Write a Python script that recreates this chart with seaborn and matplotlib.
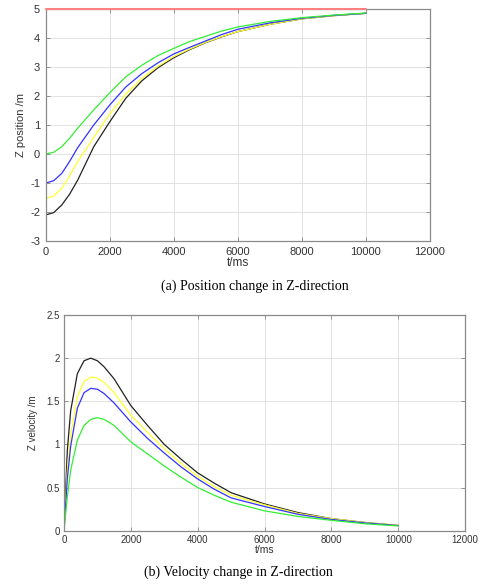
import numpy as np
import pandas as pd
import matplotlib
matplotlib.use("Agg")
import matplotlib.pyplot as plt
import seaborn as sns

# ---- data ----
t_pos = [0, 250, 500, 750, 1000, 1500, 2000, 2500, 3000, 3500, 4000, 4500, 5000, 5500, 6000, 7000, 8000, 9000, 10000]
pos_green = [0, 0.06, 0.25, 0.55, 0.89, 1.52, 2.11, 2.66, 3.06, 3.39, 3.64, 3.88, 4.06, 4.24, 4.38, 4.57, 4.70, 4.79, 4.86]
pos_blue = [-1.0, -0.92, -0.67, -0.25, 0.22, 1.0, 1.69, 2.31, 2.77, 3.14, 3.45, 3.68, 3.9, 4.12, 4.3, 4.52, 4.68, 4.78, 4.85]
pos_yellow = [-1.53, -1.45, -1.18, -0.75, -0.26, 0.57, 1.38, 2.06, 2.6, 3.02, 3.36, 3.62, 3.85, 4.05, 4.22, 4.47, 4.66, 4.77, 4.85]
pos_black = [-2.1, -2.02, -1.76, -1.38, -0.9, 0.25, 1.11, 1.92, 2.52, 2.97, 3.32, 3.6, 3.84, 4.04, 4.22, 4.47, 4.66, 4.77, 4.85]
target_t = [0, 10000]
target_z = [5, 5]

t_vel = [0, 100, 200, 400, 600, 800, 1000, 1200, 1500, 2000, 2500, 3000, 3500, 4000, 4500, 5000, 6000, 7000, 8000, 9000, 10000]
vel_black = [0, 0.93, 1.39, 1.82, 1.97, 2.0, 1.97, 1.90, 1.76, 1.45, 1.22, 1.0, 0.83, 0.67, 0.55, 0.44, 0.31, 0.21, 0.14, 0.095, 0.06]
vel_yellow = [0, 0.7, 1.1, 1.55, 1.73, 1.78, 1.77, 1.72, 1.6, 1.34, 1.14, 0.95, 0.78, 0.63, 0.51, 0.41, 0.30, 0.20, 0.14, 0.095, 0.065]
vel_blue = [0, 0.6, 0.98, 1.42, 1.6, 1.65, 1.64, 1.59, 1.48, 1.26, 1.07, 0.9, 0.74, 0.60, 0.48, 0.38, 0.28, 0.19, 0.13, 0.09, 0.06]
vel_green = [0, 0.39, 0.7, 1.05, 1.22, 1.29, 1.31, 1.29, 1.22, 1.03, 0.89, 0.75, 0.62, 0.50, 0.41, 0.33, 0.23, 0.165, 0.12, 0.08, 0.055]

x_ticks = [0, 2000, 4000, 6000, 8000, 10000, 12000]
pos_yticks = [-3, -2, -1, 0, 1, 2, 3, 4, 5]
vel_yticks = [0, 0.5, 1, 1.5, 2, 2.5]
vel_ytick_labels = ['0', '0.5', '1', '1.5', '2', '2.5']

sns.set_theme(style="white")
plt.rcParams['font.family'] = ['Liberation Sans', 'DejaVu Sans']

fig = plt.figure(figsize=(4.81, 5.86), dpi=100)
ax1 = fig.add_axes([0.095, 0.5887, 0.799, 0.396])
ax2 = fig.add_axes([0.133, 0.0944, 0.834, 0.368])

def style(ax, fs, pad):
    ax.grid(True, color='#e2e2e2', linewidth=0.7)
    ax.set_axisbelow(True)
    for s in ax.spines.values():
        s.set_color('#8a8a8a')
        s.set_linewidth(0.9)
    ax.tick_params(direction='in', length=3, width=0.6, colors='#888888',
                   labelcolor='#333333', labelsize=fs, top=True, right=True,
                   bottom=True, left=True, pad=pad)

lw = 0.9
sns.lineplot(x=target_t, y=target_z, ax=ax1, color='#ff8080', linewidth=1.5,
             zorder=10, clip_on=False)
sns.lineplot(x=t_pos, y=pos_black, ax=ax1, color='#222222', linewidth=lw)
sns.lineplot(x=t_pos, y=pos_yellow, ax=ax1, color='#ffff33', linewidth=lw)
sns.lineplot(x=t_pos, y=pos_blue, ax=ax1, color='#3333ff', linewidth=lw)
sns.lineplot(x=t_pos, y=pos_green, ax=ax1, color='#33ee33', linewidth=lw)
ax1.set_xlim(0, 12000)
ax1.set_ylim(-3, 5)
ax1.set_xticks(x_ticks)
ax1.set_yticks(pos_yticks)
ax1.set_xticklabels([str(v) for v in x_ticks])
ax1.set_yticklabels([str(v) for v in pos_yticks])
style(ax1, 8, 4)
ax1.set_xlabel('t/ms', fontsize=8.5, color='#333333', labelpad=0)
ax1.set_ylabel('Z position /m', fontsize=8, color='#333333', labelpad=3)

sns.lineplot(x=t_vel, y=vel_black, ax=ax2, color='#222222', linewidth=lw)
sns.lineplot(x=t_vel, y=vel_yellow, ax=ax2, color='#ffff33', linewidth=lw)
sns.lineplot(x=t_vel, y=vel_blue, ax=ax2, color='#3333ff', linewidth=lw)
sns.lineplot(x=t_vel, y=vel_green, ax=ax2, color='#33ee33', linewidth=lw)
ax2.set_xlim(0, 12000)
ax2.set_ylim(0, 2.5)
ax2.set_xticks(x_ticks)
ax2.set_yticks(vel_yticks)
ax2.set_xticklabels([str(v) for v in x_ticks])
ax2.set_yticklabels(vel_ytick_labels)
style(ax2, 7, 3)
ax2.set_xlabel('t/ms', fontsize=7.5, color='#333333', labelpad=0)
ax2.set_ylabel('Z velocity /m', fontsize=7, color='#333333', labelpad=6)

fig.text(0.53, 1 - 286 / 586, '(a) Position change in Z-direction', ha='center', va='center',
         fontsize=10, family=['Liberation Serif'], color='black')
fig.text(0.495, 1 - 572 / 586, '(b) Velocity change in Z-direction', ha='center', va='center',
         fontsize=10, family=['Liberation Serif'], color='black')

fig.savefig('out.png', dpi=100)
